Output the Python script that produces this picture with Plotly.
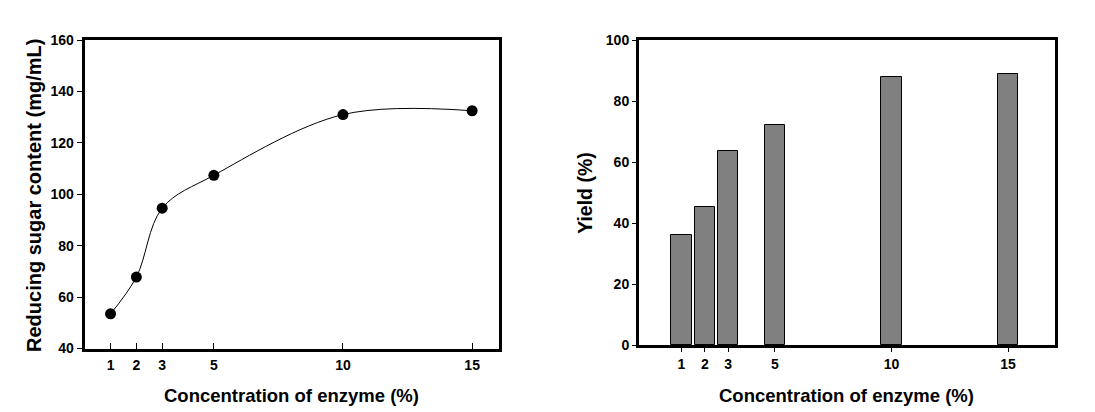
import plotly.graph_objects as go

concentration = [1, 2, 3, 5, 10, 15]
sugar_content = [53.5, 67.8, 94.6, 107.4, 131.0, 132.5]
yield_pct = [35.9, 45.4, 63.7, 72.2, 87.9, 88.9]
tick_labels = ["1", "2", "3", "5", "10", "15"]

W, H = 1095, 412
FONT = "Liberation Sans, Arial, sans-serif"

def px_x(p):
    return p / W

def px_y(p):
    return 1 - p / H

fig = go.Figure()

fig.add_trace(go.Scatter(
    x=concentration, y=sugar_content, mode="lines+markers",
    line=dict(color="black", width=1, shape="spline", smoothing=1.0),
    marker=dict(color="black", size=11),
    xaxis="x", yaxis="y", showlegend=False,
))

fig.add_trace(go.Bar(
    x=concentration, y=yield_pct, width=0.88,
    marker=dict(color="#808080", line=dict(color="black", width=1)),
    xaxis="x2", yaxis="y2", showlegend=False,
))

tickfont = dict(family=FONT, size=14, color="black", weight="bold")
common = dict(showline=True, linewidth=3, linecolor="black", mirror=True,
              showgrid=False, zeroline=False, tickfont=tickfont,
              tickcolor="black", tickwidth=1)

fig.update_layout(
    width=W, height=H,
    margin=dict(l=0, r=0, t=0, b=0),
    paper_bgcolor="white", plot_bgcolor="white",
    xaxis=dict(domain=[px_x(76.7), px_x(491)], range=[0, 16.04],
               tickvals=concentration, ticktext=tick_labels,
               ticks="inside", ticklen=6, anchor="y", ticklabelstandoff=2, **common),
    yaxis=dict(domain=[px_y(346), px_y(25)], range=[40, 160],
               tickvals=[40, 60, 80, 100, 120, 140, 160],
               ticks="outside", ticklen=5, anchor="x", **common),
    xaxis2=dict(domain=[px_x(631), px_x(1046.7)], range=[-0.82, 17],
                tickvals=concentration, ticktext=tick_labels,
                ticks="outside", ticklen=4, anchor="y2", **common),
    yaxis2=dict(domain=[px_y(342.3), px_y(25)], range=[0, 100],
                tickvals=[0, 20, 40, 60, 80, 100],
                ticks="outside", ticklen=4, anchor="x2", **common),
    bargap=0,
)

def tf(size):
    return dict(family=FONT, size=size, color="black", weight="bold")

annos = [
    dict(text="Concentration of enzyme (%)", x=px_x(283.5), y=px_y(395), font=tf(18.5)),
    dict(text="Concentration of enzyme (%)", x=px_x(838.8), y=px_y(395), font=tf(18.5)),
    dict(text="Reducing sugar content (mg/mL)", x=px_x(26.7), y=px_y(186.5),
         textangle=-90, font=tf(20)),
    dict(text="Yield (%)", x=px_x(577), y=px_y(184), textangle=-90, font=tf(19.5)),
]
for a in annos:
    fig.add_annotation(xref="paper", yref="paper", showarrow=False,
                       xanchor="center", yanchor="middle", **a)

fig.write_html("out.html")
